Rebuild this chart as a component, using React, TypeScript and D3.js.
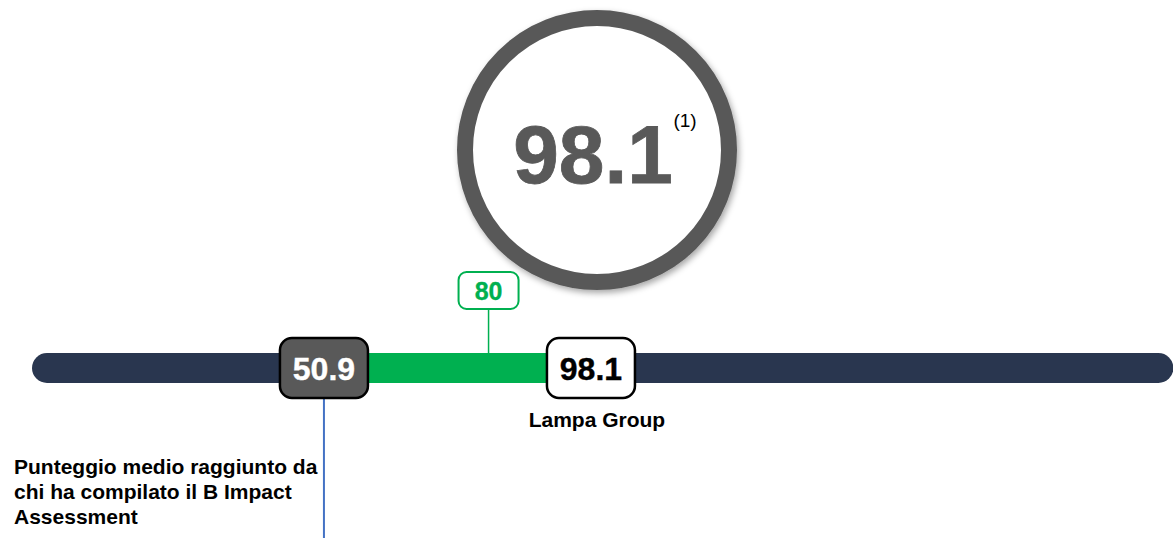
import React from 'react'
import * as d3 from 'd3'

// scores shown on the scale
const scoreNames = ['Punteggio medio raggiunto da chi ha compilato il B Impact Assessment', 'Lampa Group']
const scoreValues = [50.9, 98.1]
const thresholdValue = 80
const scaleDomain = [0, 200]
const avgLabelLines = ['Punteggio medio raggiunto da', 'chi ha compilato il B Impact', 'Assessment']
const footnote = '(1)'

const W = 1173
const H = 538
const FONT = "'Liberation Sans', Arial, Helvetica, sans-serif"

const App = () => {
  const x = d3.scaleLinear().domain(scaleDomain).range([36, 1167.4])

  const trackY = 368
  const trackH = 30
  const boxW = 88
  const boxH = 60

  const [avg, company] = scoreValues
  const fmt = d3.format('.1f')

  const cx = 597
  const cy = 150

  return (
    <svg
      width={W}
      height={H}
      style={{ position: 'absolute', left: 0, top: 0, background: '#fff' }}
      fontFamily={FONT}
    >
      <defs>
        <filter id="shadow" x="-20%" y="-20%" width="140%" height="140%">
          <feDropShadow dx="2" dy="3" stdDeviation="3" floodColor="#000" floodOpacity="0.35" />
        </filter>
      </defs>

      {/* big score circle */}
      <circle cx={cx} cy={cy} r={132} fill="#fff" stroke="#595959" strokeWidth={16} filter="url(#shadow)" />
      <text
        x={cx - 4}
        y={183}
        textAnchor="middle"
        fontSize={82}
        fontWeight="bold"
        fill="#595959"
        stroke="#595959"
        strokeWidth={0.8}
      >
        {fmt(company)}
      </text>
      <text x={685} y={127} textAnchor="middle" fontSize={19} fill="#000">
        {footnote}
      </text>

      {/* track */}
      <rect
        x={x(scaleDomain[0]) - 4}
        y={trackY - trackH / 2}
        width={x(scaleDomain[1]) - x(scaleDomain[0]) + 10}
        height={trackH}
        rx={15}
        fill="#29364f"
      />
      {/* range between average and company */}
      <rect
        x={x(avg)}
        y={trackY - trackH / 2}
        width={x(company) - x(avg)}
        height={trackH}
        fill="#00b050"
      />

      {/* threshold marker */}
      <line
        x1={x(thresholdValue)}
        x2={x(thresholdValue)}
        y1={309}
        y2={trackY - trackH / 2}
        stroke="#00b050"
        strokeWidth={1.5}
      />
      <rect
        x={x(thresholdValue) - 30}
        y={272}
        width={60}
        height={37}
        rx={8}
        fill="#fff"
        stroke="#00b050"
        strokeWidth={2}
      />
      <text
        x={x(thresholdValue)}
        y={300}
        textAnchor="middle"
        fontSize={25}
        fontWeight="bold"
        fill="#00b050"
        stroke="#00b050"
        strokeWidth={0.3}
      >
        {thresholdValue}
      </text>

      {/* average connector */}
      <line x1={x(avg)} x2={x(avg)} y1={trackY + boxH / 2} y2={H} stroke="#4472c4" strokeWidth={2} />

      {/* value boxes */}
      {scoreValues.map((v, i) => (
        <g key={scoreNames[i]}>
          <rect
            x={x(v) - boxW / 2}
            y={trackY - boxH / 2}
            width={boxW}
            height={boxH}
            rx={12}
            fill={i === 0 ? '#595959' : '#fff'}
            stroke="#000"
            strokeWidth={2.5}
          />
          <text
            x={x(v)}
            y={trackY + 12}
            textAnchor="middle"
            fontSize={32}
            fontWeight="bold"
            fill={i === 0 ? '#fff' : '#000'}
            stroke={i === 0 ? '#fff' : '#000'}
            strokeWidth={0.4}
          >
            {fmt(v)}
          </text>
        </g>
      ))}

      {/* labels */}
      <text x={x(company) + 6} y={427} textAnchor="middle" fontSize={21} fontWeight="bold" fill="#000">
        {scoreNames[1]}
      </text>
      <text x={14} fontSize={21} fontWeight="bold" fill="#000">
        {avgLabelLines.map((line, i) => (
          <tspan key={line} x={14} y={474 + i * 25}>
            {line}
          </tspan>
        ))}
      </text>
    </svg>
  )
}

export default App
